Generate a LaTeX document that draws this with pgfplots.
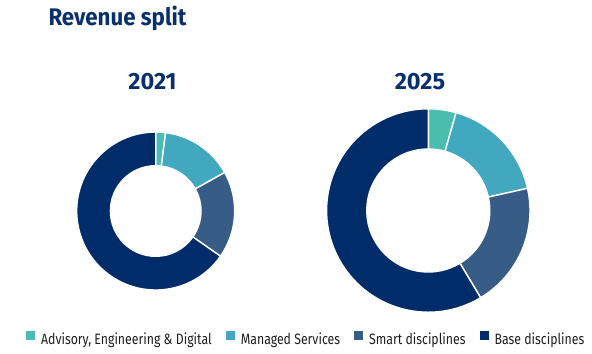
\documentclass[border=0pt]{standalone}
\usepackage{pgfplots}
\pgfplotsset{compat=1.18}
\usepackage{pgfplotstable}
\usepackage{fontspec}
\setmainfont{Fira Sans}
\newfontfamily\legendfont[FakeStretch=0.82]{Fira Sans}
\newfontfamily\titlefont[FakeStretch=0.93]{Fira Sans}

\definecolor{cteal}{RGB}{75,189,174}
\definecolor{clight}{RGB}{66,168,192}
\definecolor{csteel}{RGB}{55,93,135}
\definecolor{cnavy}{RGB}{0,45,106}
\definecolor{ctitle}{RGB}{10,48,108}
\definecolor{ctext}{RGB}{30,30,30}

% shares in percent, clockwise from 12 o'clock
\pgfplotstableread{
share
2.0
14.9
17.8
65.3
}\tabA
\pgfplotstableread{
share
4.4
17.1
19.9
58.6
}\tabB

\newcommand\getangles[2]{%
  \def\acc{0}%
  \pgfplotsforeachungrouped \i in {0,1,2,3}{%
    \pgfplotstablegetelem{\i}{share}\of#1%
    \pgfmathsetmacro\startang{90-3.6*\acc}%
    \pgfmathsetmacro\acc{\acc+\pgfplotsretval}%
    \pgfmathsetmacro\stopang{90-3.6*\acc}%
    \expandafter\xdef\csname #2s\i\endcsname{\startang}%
    \expandafter\xdef\csname #2e\i\endcsname{\stopang}%
  }%
}
\getangles{\tabA}{A}
\getangles{\tabB}{B}

% prefix, index, colour, cx, cy, R, r
\newcommand\seg[7]{%
  \fill[#3, draw=white, line width=1.4bp]
    ([shift={(\csname #1s#2\endcsname:#6bp)}]axis cs:#4,#5)
    arc[start angle=\csname #1s#2\endcsname, end angle=\csname #1e#2\endcsname, radius=#6bp]
    -- ([shift={(\csname #1e#2\endcsname:#7bp)}]axis cs:#4,#5)
    arc[start angle=\csname #1e#2\endcsname, end angle=\csname #1s#2\endcsname, radius=#7bp]
    -- cycle;
}

\begin{document}
\begin{tikzpicture}
\begin{axis}[
  scale only axis, width=592bp, height=354bp,
  xmin=0, xmax=592, ymin=0, ymax=354, y dir=reverse,
  hide axis, clip=false,
  legend columns=4,
  legend cell align=left,
  legend image code/.code={\fill[#1] (0bp,-0.3bp) rectangle (8bp,7.7bp); \path (14.7bp,0bp);},
  legend style={at={(axis cs:26,338.5)}, anchor=west, draw=none, fill=none,
    inner sep=0pt, outer sep=0pt, column sep=0pt,
    font=\legendfont\fontsize{15bp}{18bp}\selectfont, text=ctext,
    nodes={inner sep=0pt, outer sep=0pt},
    /tikz/every odd column/.append style={column sep=0pt},
    /tikz/every even column/.append style={column sep=0pt}},
]
\addlegendimage{cteal}\addlegendentry{Advisory, Engineering \& Digital\kern14bp}
\addlegendimage{clight}\addlegendentry{Managed Services\kern14bp}
\addlegendimage{csteel}\addlegendentry{Smart disciplines\kern14bp}
\addlegendimage{cnavy}\addlegendentry{Base disciplines}

\seg{A}{0}{cteal}{155.7}{211}{79}{45.3}
\seg{A}{1}{clight}{155.7}{211}{79}{45.3}
\seg{A}{2}{csteel}{155.7}{211}{79}{45.3}
\seg{A}{3}{cnavy}{155.7}{211}{79}{45.3}

\seg{B}{0}{cteal}{428.3}{210.5}{101.7}{61.5}
\seg{B}{1}{clight}{428.3}{210.5}{101.7}{61.5}
\seg{B}{2}{csteel}{428.3}{210.5}{101.7}{61.5}
\seg{B}{3}{cnavy}{428.3}{210.5}{101.7}{61.5}

\node[anchor=base west, inner sep=0pt, text=ctitle,
  font=\titlefont\bfseries\fontsize{24bp}{28bp}\selectfont] at (axis cs:48.3,26) {Revenue split};
\node[anchor=base, inner sep=0pt, text=ctitle,
  font=\bfseries\fontsize{23.5bp}{27bp}\selectfont] at (axis cs:152.5,89.3) {2021};
\node[anchor=base, inner sep=0pt, text=ctitle,
  font=\bfseries\fontsize{23.5bp}{27bp}\selectfont] at (axis cs:420,89.3) {2025};
\end{axis}
\pgfresetboundingbox
\path (current axis.south west) rectangle (current axis.north east);
\end{tikzpicture}
\end{document}
